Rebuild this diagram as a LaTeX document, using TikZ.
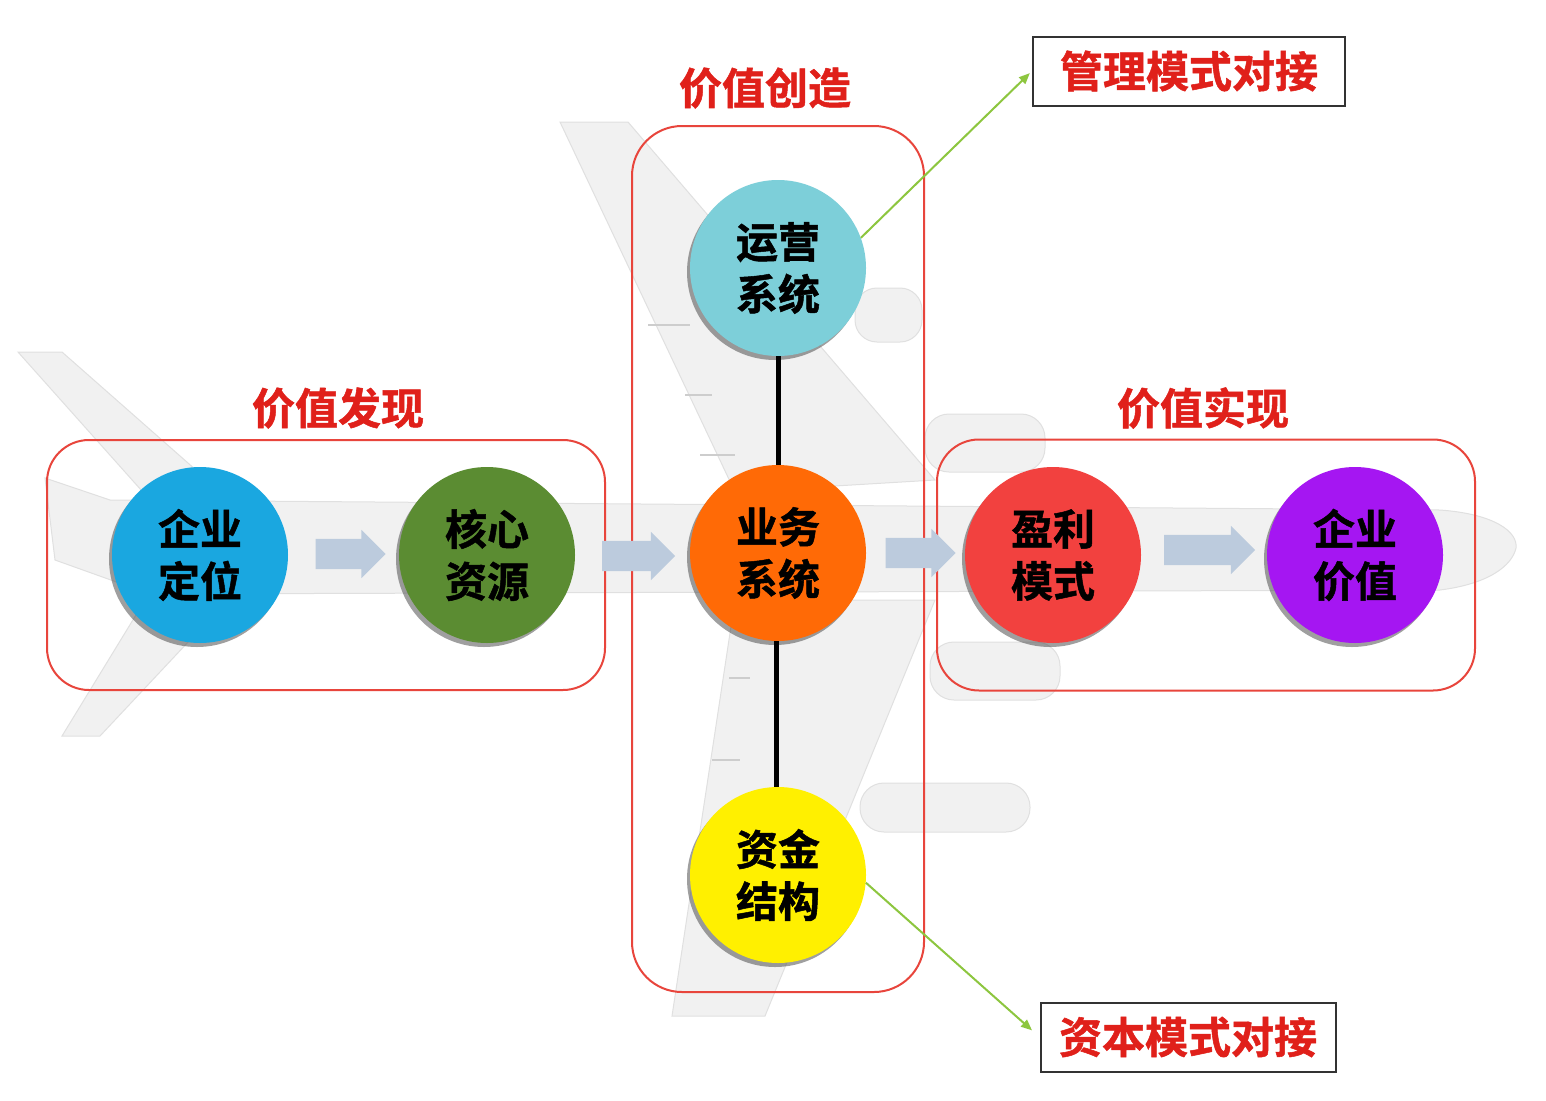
\documentclass[tikz,border=0pt]{standalone}
\usepackage{fontspec}
\newfontfamily\cjk{Noto Sans CJK SC}[BoldFont={* Bold},BoldFeatures={FakeBold=1.2}]
\usetikzlibrary{shapes.arrows,shadows,arrows.meta}
\definecolor{cBlue}{HTML}{1AA7E0}
\definecolor{cGreen}{HTML}{5B8C32}
\definecolor{cTeal}{HTML}{7DCFD9}
\definecolor{cOrange}{HTML}{FF6A06}
\definecolor{cYellow}{HTML}{FFF000}
\definecolor{cRed}{HTML}{F2413F}
\definecolor{cPurple}{HTML}{A516F2}
\definecolor{titleRed}{HTML}{E0201A}
\definecolor{frameRed}{HTML}{E8453C}
\definecolor{arrowFill}{HTML}{BCCBDD}
\definecolor{lineGreen}{HTML}{8DC63F}
\definecolor{planeFill}{HTML}{F1F1F1}
\definecolor{planeEdge}{HTML}{E0E0E0}
\tikzset{
  plane/.style={fill=planeFill,draw=planeEdge,line width=1pt},
  ball/.style={circle,minimum size=176pt,inner sep=0pt,align=center,
    font=\cjk\bfseries\fontsize{42}{52}\selectfont,text=black,
    drop shadow={shadow xshift=-3pt,shadow yshift=-4pt,opacity=0.5,fill=black!75}},
  frame/.style={draw=frameRed,line width=2pt,rounded corners=42pt},
  title/.style={text=titleRed,font=\cjk\bfseries\fontsize{43}{46}\selectfont},
  blockarrow/.style={single arrow,fill=arrowFill,inner sep=15pt,
    single arrow head extend=9pt,minimum height=#1,shape border rotate=0},
  link/.style={draw=black,line width=5pt},
  callout/.style={draw=lineGreen,line width=2pt,-{Triangle[length=11pt,width=9pt]}},
  tagbox/.style={draw=black!80,line width=2pt,fill=white,text=titleRed,
    font=\cjk\bfseries\fontsize{43}{46}\selectfont,inner xsep=0pt,inner ysep=0pt}
}
\begin{document}
\begin{tikzpicture}[x=1pt,y=-1pt]
\useasboundingbox (0,0) rectangle (1546,1100);
\fill[white] (0,0) rectangle (1546,1100);
% ---- airplane background ----
\path[plane] (150,500) -- (18,352) -- (62,352) -- (230,500) -- cycle;
\path[plane] (150,592) -- (62,736) -- (100,736) -- (235,592) -- cycle;
\path[plane] (560,122) -- (628,122) -- (935,480) -- (735,492) -- cycle;
\path[plane] (735,600) -- (935,600) -- (765,1016) -- (672,1016) -- cycle;
\path[plane] (45,478) -- (110,500) -- (1440,510)
  .. controls (1495,514) and (1518,532) .. (1516,548)
  .. controls (1512,566) and (1488,584) .. (1440,590)
  -- (150,594) -- (55,560) -- cycle;
\path[plane,rounded corners=22pt] (855,288) rectangle (922,342);
\path[plane,rounded corners=24pt] (925,414) rectangle (1045,472);
\path[plane,rounded corners=24pt] (930,642) rectangle (1060,700);
\path[plane,rounded corners=24pt] (860,783) rectangle (1030,832);
\draw[planeEdge!80!gray,line width=2pt] (648,325) -- (690,325) (685,395) -- (712,395) (700,455) -- (735,455)
  (729,678) -- (750,678) (712,760) -- (740,760) (692,857) -- (725,857);
% ---- frames ----
\node[frame,minimum width=558pt,minimum height=250pt] (fl) at (326,565) {};
\node[frame,minimum width=292pt,minimum height=866pt,rounded corners=50pt] (fc) at (778,559) {};
\node[frame,minimum width=538pt,minimum height=251pt] (fr) at (1206,565) {};
\node[title] (tl) at (338,408) {价值发现};
\node[title] (tc) at (765,88) {价值创造};
\node[title] (tr) at (1203,408) {价值实现};
% ---- block arrows ----
\node[blockarrow=70pt] (a1) at (343,554) {};
\node[blockarrow=73pt] (a2) at (631,556) {};
\node[blockarrow=70pt] (a3) at (913,553) {};
\node[blockarrow=91pt] (a4) at (1202,550) {};
% ---- balls ----
\node[ball,fill=cBlue] (qd) at (200,555) {企业\\定位};
\node[ball,fill=cGreen] (hx) at (487,555) {核心\\资源};
\node[ball,fill=cTeal] (yy) at (778,268) {运营\\系统};
\node[ball,fill=cOrange] (yw) at (778,553) {业务\\系统};
\node[ball,fill=cYellow] (zj) at (778,875) {资金\\结构};
\node[ball,fill=cRed] (yl) at (1053,555) {盈利\\模式};
\node[ball,fill=cPurple] (qv) at (1355,555) {企业\\价值};
% ---- connectors in center column ----
\begin{scope}[on background layer/.style={}]
\draw[link] (yy.south) -- (yw.north);
\draw[link] ([xshift=-2pt]yw.south) -- ([xshift=-2pt]zj.north);
\end{scope}
% ---- tag boxes ----
\node[tagbox,minimum width=312pt,minimum height=69pt] (gl) at (1189,71) {管理模式对接};
\node[tagbox,minimum width=295pt,minimum height=69pt] (zb) at (1188,1037) {资本模式对接};
\draw[callout,shorten >=3pt] (yy.20) -- (gl.west);
\draw[callout,shorten >=10pt] (zj.-5) -- (zb.west);
\end{tikzpicture}
\end{document}
